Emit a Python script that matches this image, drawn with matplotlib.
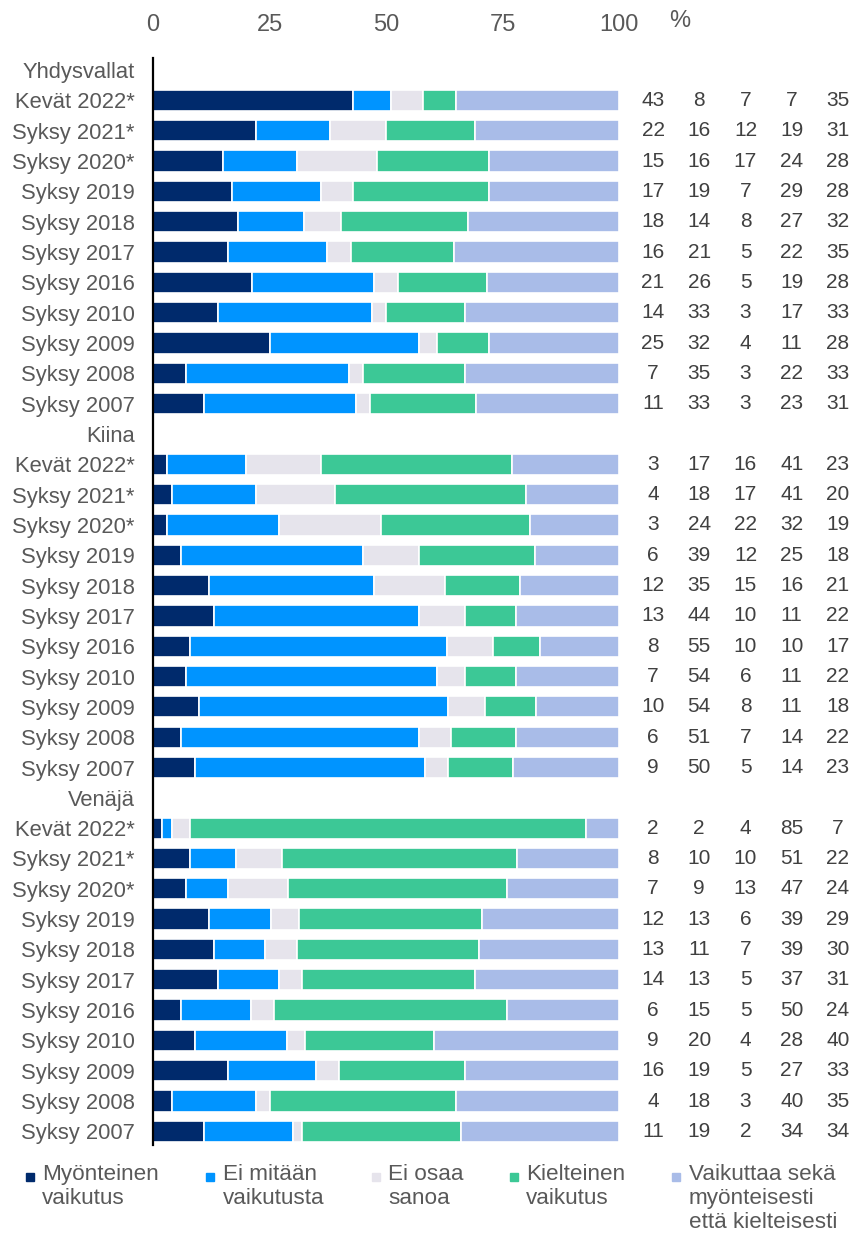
import matplotlib
matplotlib.use("Agg")
import matplotlib.pyplot as plt
from matplotlib.patches import Rectangle

plt.rcParams['font.family'] = ['Liberation Sans', 'DejaVu Sans']

groups = ["Yhdysvallat", "Kiina", "Venäjä"]
periods = ["Kevät 2022*", "Syksy 2021*", "Syksy 2020*", "Syksy 2019", "Syksy 2018",
           "Syksy 2017", "Syksy 2016", "Syksy 2010", "Syksy 2009", "Syksy 2008", "Syksy 2007"]
series = ["Myönteinen\nvaikutus", "Ei mitään\nvaikutusta", "Ei osaa\nsanoa",
          "Kielteinen\nvaikutus", "Vaikuttaa sekä\nmyönteisesti\nettä kielteisesti"]

usa = [[43, 8, 7, 7, 35], [22, 16, 12, 19, 31], [15, 16, 17, 24, 28], [17, 19, 7, 29, 28],
       [18, 14, 8, 27, 32], [16, 21, 5, 22, 35], [21, 26, 5, 19, 28], [14, 33, 3, 17, 33],
       [25, 32, 4, 11, 28], [7, 35, 3, 22, 33], [11, 33, 3, 23, 31]]
china = [[3, 17, 16, 41, 23], [4, 18, 17, 41, 20], [3, 24, 22, 32, 19], [6, 39, 12, 25, 18],
         [12, 35, 15, 16, 21], [13, 44, 10, 11, 22], [8, 55, 10, 10, 17], [7, 54, 6, 11, 22],
         [10, 54, 8, 11, 18], [6, 51, 7, 14, 22], [9, 50, 5, 14, 23]]
russia = [[2, 2, 4, 85, 7], [8, 10, 10, 51, 22], [7, 9, 13, 47, 24], [12, 13, 6, 39, 29],
          [13, 11, 7, 39, 30], [14, 13, 5, 37, 31], [6, 15, 5, 50, 24], [9, 20, 4, 28, 40],
          [16, 19, 5, 27, 33], [4, 18, 3, 40, 35], [11, 19, 2, 34, 34]]
xticks = [0, 25, 50, 75, 100]

colors = ["#002A6C", "#0094FF", "#E6E4EC", "#3CC896", "#A9BCE8"]
label_col = "#595959"
num_col = "#404040"

W, H = 856, 1241
fig = plt.figure(figsize=(W / 100, H / 100), dpi=100)
ax = fig.add_axes([153 / W, 1 - 1145 / H, 466 / W, (1145 - 58) / H])

rows = []
for g, data in zip(groups, [usa, china, russia]):
    rows.append((g, None))
    for p, v in zip(periods, data):
        rows.append((p, v))

ylabels = []
for i, (lab, vals) in enumerate(rows):
    ylabels.append(lab)
    if vals is None:
        continue
    total = sum(vals)
    left = 0
    for k, v in enumerate(vals):
        w = v * 100.0 / total  # 100 % stacked bar (shown values are rounded)
        ax.barh(i, w, left=left, height=0.7, color=colors[k], edgecolor="white", linewidth=1.2)
        left += w
    for k, v in enumerate(vals):
        ax.text(107.3 + 9.92 * k, i, str(v), ha="center", va="center", fontsize=15,
                color=num_col, clip_on=False)

ax.set_xlim(0, 100)
ax.set_ylim(35.45, -0.4)
ax.set_yticks(range(len(rows)))
ax.set_yticklabels(ylabels, fontsize=15.8, color=label_col)
ax.tick_params(axis="y", length=0, pad=13)
ax.xaxis.tick_top()
ax.set_xticks(xticks)
ax.set_xticklabels([str(t) for t in xticks], fontsize=17, color=label_col)
ax.tick_params(axis="x", length=0, pad=16)
for s in ["top", "right", "bottom"]:
    ax.spines[s].set_visible(False)
ax.spines["left"].set_linewidth(1.6)
ax.spines["left"].set_color("black")
ax.text(680 / W, 1 - 21 / H, "%", transform=fig.transFigure, ha="center", va="center",
        fontsize=17, color=label_col)

# legend
mark_x = [30, 210, 376, 514, 676]
text_x = [42, 223, 388, 526, 689]
for k, s in enumerate(series):
    fig.patches.append(Rectangle(((mark_x[k] - 4) / W, 1 - 1181 / H), 8 / W, 8 / H,
                                 transform=fig.transFigure, color=colors[k]))
    fig.text(text_x[k] / W, 1 - 1164 / H, s, ha="left", va="top", fontsize=16.2,
             color=label_col, linespacing=1.2)

fig.savefig("out.png", dpi=100)
